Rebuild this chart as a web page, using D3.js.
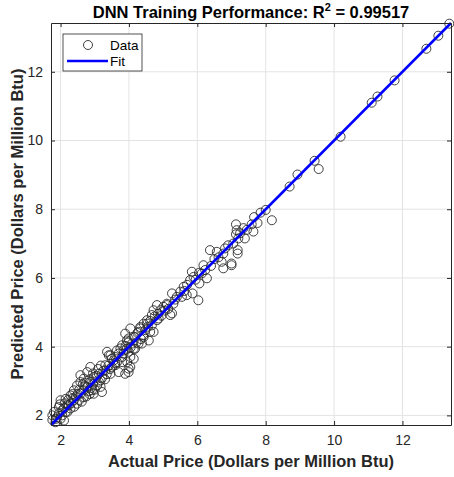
<!DOCTYPE html>
<html>
<head>
<meta charset="utf-8">
<script src="https://cdn.jsdelivr.net/npm/d3@7"></script>
<style>
  body { margin: 0; background: #fff; }
  text { font-family: "Liberation Sans", Arial, sans-serif; }
</style>
</head>
<body>
<div id="chart"></div>
<script>
// values
const actual = [
  13.37, 13.05, 12.70, 11.77, 11.27, 11.10, 10.19, 9.43, 9.55, 8.93,
  8.70, 8.00, 7.66, 8.18, 7.59, 7.76, 7.64, 7.13, 7.15, 7.13,
  7.20, 7.39, 7.18, 6.81, 6.37, 6.57, 6.76, 7.18, 6.71, 6.76,
  7.00, 6.18, 6.23, 6.13, 5.84, 5.89, 6.28, 6.06, 5.79, 5.60,
  7.00, 6.03, 5.86, 5.69, 5.50, 5.26, 5.35, 5.11, 5.01, 4.92,
  4.82, 4.72, 4.67, 5.21, 4.87, 4.53, 4.43, 4.33, 4.04, 4.67,
  4.72, 4.28, 4.18, 3.99, 4.09, 3.89, 4.38, 4.43, 4.58, 3.80,
  3.94, 4.14, 3.65, 3.84, 4.04, 3.60, 3.36, 3.46, 3.99, 4.04,
  3.95, 4.28, 3.84, 3.65, 3.50, 3.80, 3.31, 3.12, 3.17, 2.97,
  2.78, 2.68, 2.87, 3.07, 2.58, 2.48, 2.78, 2.92, 3.17, 2.39,
  2.58, 2.29, 2.15, 2.00, 2.39, 2.68, 2.24, 1.95, 2.10, 2.48,
  1.81, 1.76, 2.05, 2.20, 1.76, 2.10, 2.29, 1.86, 2.68, 2.97,
  3.21, 2.87, 2.58, 5.11, 4.82, 4.53, 4.33, 4.62, 5.26, 4.43,
  4.14, 3.94, 3.41, 3.99, 4.18, 4.14, 3.80, 3.31, 3.60, 3.99,
  3.89, 3.70, 3.46, 2.75, 2.85, 2.95, 3.02, 2.90, 2.70, 2.82,
  3.05, 3.12, 2.65, 2.95, 3.22, 3.25, 3.35, 3.40, 3.55, 3.50,
  3.60, 2.55, 2.45, 2.35, 2.30, 2.20, 2.15, 2.05, 1.95, 1.90,
  1.85, 2.00, 2.40, 2.55, 2.62, 2.50, 2.35, 2.22, 2.12, 1.98,
  2.75, 2.85, 3.00, 3.10, 3.18, 3.30, 3.45, 3.70, 3.75, 3.90,
  3.98, 4.05, 4.22, 4.25, 4.35, 4.48, 4.55, 4.62, 4.75, 4.85,
  4.95, 5.05, 5.15, 5.30, 5.40, 5.55, 5.62, 5.70, 5.95, 6.05,
  6.40, 6.50, 6.62, 6.90, 7.05, 7.25, 7.35, 7.45, 7.85
];
const predicted = [
  13.40, 13.05, 12.67, 11.75, 11.28, 11.10, 10.11, 9.41, 9.17, 9.01,
  8.66, 7.98, 7.77, 7.68, 7.56, 7.60, 7.35, 7.56, 7.39, 7.27,
  7.15, 7.15, 6.81, 6.86, 6.81, 6.76, 6.71, 6.71, 6.47, 6.28,
  6.37, 6.37, 6.23, 6.13, 6.18, 6.03, 5.99, 5.84, 5.94, 5.74,
  6.42, 5.35, 5.55, 5.50, 5.60, 5.55, 5.37, 5.25, 5.16, 5.06,
  5.21, 5.06, 4.92, 4.92, 4.82, 4.77, 4.67, 4.57, 4.53, 4.62,
  4.43, 4.43, 4.28, 4.24, 4.09, 4.38, 4.09, 4.33, 4.18, 4.04,
  3.94, 3.94, 3.89, 3.80, 3.70, 3.70, 3.85, 3.75, 3.26, 3.41,
  3.55, 4.09, 3.89, 3.55, 3.41, 3.70, 3.31, 3.21, 3.02, 3.12,
  3.26, 3.07, 2.97, 2.87, 2.97, 2.87, 2.83, 2.73, 2.83, 2.73,
  2.63, 2.58, 2.48, 2.44, 2.44, 2.53, 2.29, 2.24, 2.20, 2.34,
  2.10, 2.00, 2.00, 2.10, 1.87, 1.85, 2.20, 1.90, 2.73, 2.63,
  2.68, 3.41, 3.17, 5.21, 4.77, 4.67, 4.53, 4.43, 4.97, 4.28,
  4.28, 4.18, 3.75, 3.85, 3.94, 3.65, 3.55, 3.46, 3.46, 3.36,
  3.21, 3.26, 3.21, 2.95, 3.05, 2.92, 3.08, 2.80, 2.85, 2.70,
  3.15, 2.98, 2.90, 3.22, 3.10, 3.30, 3.20, 3.45, 3.60, 3.65,
  3.52, 2.75, 2.55, 2.50, 2.35, 2.30, 2.10, 2.15, 2.05, 1.95,
  1.80, 1.90, 2.25, 2.45, 2.40, 2.62, 2.62, 2.45, 2.35, 2.32,
  2.55, 2.62, 2.75, 3.35, 3.45, 3.05, 3.35, 3.80, 3.95, 4.02,
  4.12, 3.98, 4.12, 4.40, 4.22, 4.48, 4.58, 4.75, 4.88, 4.95,
  4.90, 5.05, 5.10, 5.25, 5.45, 5.45, 5.62, 5.80, 5.95, 6.15,
  6.35, 6.55, 6.60, 6.95, 7.00, 7.30, 7.45, 7.40, 7.90
];
const ticks = [2, 4, 6, 8, 10, 12];
const axisRange = [1.72, 13.42];
const fitSlope = 1.0;
const fitIntercept = 0.0;
const titleText = 'DNN Training Performance: R';
const r2Text = ' = 0.99517';
const xLabel = 'Actual Price (Dollars per Million Btu)';
const yLabel = 'Predicted Price (Dollars per Million Btu)';
const legendItems = ['Data', 'Fit'];

const width = 454;
const height = 477;
const margin = { top: 23, right: 3, bottom: 52, left: 51 };
const plotW = width - margin.left - margin.right;
const plotH = height - margin.top - margin.bottom;
const axisColor = '#262626';

const points = actual.map((a, i) => ({ a: a, p: predicted[i] }));

const svg = d3.select('#chart')
  .append('svg')
  .attr('width', width)
  .attr('height', height);

const x = d3.scaleLinear().domain(axisRange).range([0, plotW]);
const y = d3.scaleLinear().domain(axisRange).range([plotH, 0]);

const g = svg.append('g')
  .attr('transform', `translate(${margin.left},${margin.top})`);

// grid
g.append('g')
  .selectAll('line')
  .data(ticks)
  .join('line')
  .attr('x1', d => x(d)).attr('x2', d => x(d))
  .attr('y1', 0).attr('y2', plotH)
  .attr('stroke', '#e3e3e3').attr('stroke-width', 1);
g.append('g')
  .selectAll('line')
  .data(ticks)
  .join('line')
  .attr('x1', 0).attr('x2', plotW)
  .attr('y1', d => y(d)).attr('y2', d => y(d))
  .attr('stroke', '#e3e3e3').attr('stroke-width', 1);

// data
g.append('g')
  .selectAll('circle')
  .data(points)
  .join('circle')
  .attr('cx', d => x(d.a))
  .attr('cy', d => y(d.p))
  .attr('r', 4.5)
  .attr('fill', 'none')
  .attr('stroke', '#2b2b2b')
  .attr('stroke-width', 0.9);

// fit line
const line = d3.line()
  .x(d => x(d))
  .y(d => y(fitSlope * d + fitIntercept));
g.append('path')
  .datum(axisRange)
  .attr('d', line)
  .attr('fill', 'none')
  .attr('stroke', '#0000ff')
  .attr('stroke-width', 2.5);

// axes, ticks inside on all sides
const axisFmt = d3.format('d');
g.append('g')
  .attr('transform', `translate(0,${plotH})`)
  .call(d3.axisBottom(x).tickValues(ticks).tickFormat(axisFmt).tickSizeInner(-4).tickSizeOuter(0).tickPadding(10));
g.append('g')
  .call(d3.axisLeft(y).tickValues(ticks).tickFormat(axisFmt).tickSizeInner(-4).tickSizeOuter(0).tickPadding(8));
g.append('g')
  .call(d3.axisTop(x).tickValues(ticks).tickFormat('').tickSizeInner(-4).tickSizeOuter(0));
g.append('g')
  .attr('transform', `translate(${plotW},0)`)
  .call(d3.axisRight(y).tickValues(ticks).tickFormat('').tickSizeInner(-4).tickSizeOuter(0));

g.selectAll('.domain').attr('stroke', axisColor);
g.selectAll('.tick line').attr('stroke', axisColor);
g.selectAll('.tick text')
  .attr('fill', axisColor)
  .style('font-size', '14px')
  .style('font-family', '"Liberation Sans", Arial, sans-serif');

// title
const title = svg.append('text')
  .attr('x', margin.left + plotW / 2)
  .attr('y', 18)
  .attr('text-anchor', 'middle')
  .style('font-size', '16.5px')
  .style('font-weight', 'bold')
  .attr('fill', '#000');
title.append('tspan').text(titleText);
title.append('tspan').attr('dy', -7).style('font-size', '11px').text('2');
title.append('tspan').attr('dy', 7).text(r2Text);

// axis labels
svg.append('text')
  .attr('x', margin.left + plotW / 2)
  .attr('y', 467)
  .attr('text-anchor', 'middle')
  .style('font-size', '16.5px')
  .style('font-weight', 'bold')
  .attr('fill', axisColor)
  .text(xLabel);
svg.append('text')
  .attr('transform', `translate(23,${margin.top + plotH / 2}) rotate(-90)`)
  .attr('text-anchor', 'middle')
  .style('font-size', '16.5px')
  .style('font-weight', 'bold')
  .attr('fill', axisColor)
  .text(yLabel);

// legend
const legend = svg.append('g').attr('transform', 'translate(63,34)');
legend.append('rect')
  .attr('width', 79).attr('height', 37)
  .attr('fill', '#fff')
  .attr('stroke', axisColor).attr('stroke-width', 0.8);
legend.append('circle')
  .attr('cx', 25).attr('cy', 11).attr('r', 4.5)
  .attr('fill', 'none').attr('stroke', '#2b2b2b').attr('stroke-width', 0.9);
legend.append('line')
  .attr('x1', 4).attr('x2', 45).attr('y1', 27).attr('y2', 27)
  .attr('stroke', '#0000ff').attr('stroke-width', 2.5);
legend.selectAll('text')
  .data(legendItems)
  .join('text')
  .attr('x', 47)
  .attr('y', (d, i) => 16 + i * 16)
  .style('font-size', '13.5px')
  .attr('fill', '#000')
  .text(d => d);
</script>
</body>
</html>
